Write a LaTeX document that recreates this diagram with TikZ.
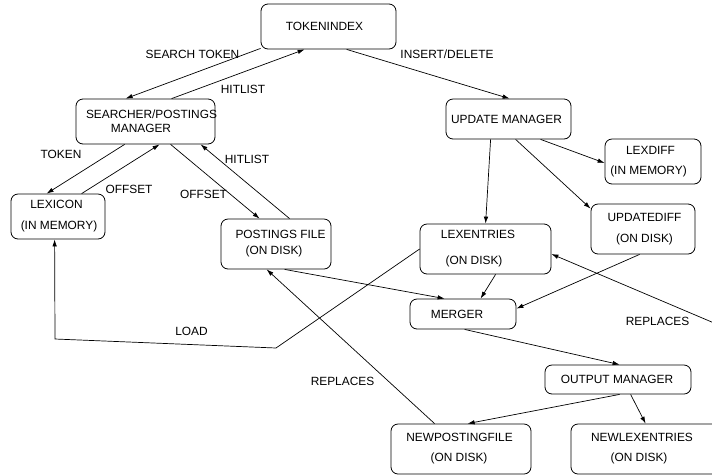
\documentclass[tikz,border=0pt]{standalone}
\usepackage{fontspec}
\setmainfont{Liberation Sans}
\usetikzlibrary{arrows.meta,calc}
\newcommand\dfont{\fontsize{11.9pt}{14pt}\selectfont}
\newcommand\sh[2]{\makebox[0pt]{\hspace*{#1}#2}}
\begin{document}
\begin{tikzpicture}[x=1pt,y=-1pt,
  box/.style={draw, rounded corners=7pt, line width=0.8pt, align=center, inner sep=0pt, font=\dfont},
  lbl/.style={inner sep=0pt, font=\dfont},
  conn/.style={line width=0.7pt, -{Latex[length=7pt,width=4.5pt]}},
  plain/.style={line width=0.7pt}]
\useasboundingbox (0,0) rectangle (712,475);
\clip (0,0) rectangle (712,475);
% boxes
\node[box, minimum width=135pt, minimum height=45pt] (tok) at (328.5,26.5) {\sh{-8pt}{TOKENINDEX}};
\node[box, minimum width=139pt, minimum height=45pt] (sea) at (145.5,121.5) {\sh{12pt}{SEARCHER/POSTINGS}\\\sh{-9pt}{MANAGER}};
\node[box, minimum width=94pt, minimum height=45pt] (lex) at (58,216.5) {\sh{-3pt}{LEXICON}\\[7pt]\sh{2pt}{(IN MEMORY)}};
\node[box, minimum width=110pt, minimum height=50pt] (pst) at (276,244) {\sh{9pt}{POSTINGS FILE}\\[2pt]\sh{-4pt}{(ON DISK)}};
\node[box, minimum width=125pt, minimum height=40pt] (upd) at (508.5,119) {\sh{-4pt}{UPDATE MANAGER}};
\node[box, minimum width=96pt, minimum height=45pt] (ldf) at (653,161.5) {\sh{-5pt}{LEXDIFF}\\[6pt]\sh{-9pt}{(IN MEMORY)}};
\node[box, minimum width=104pt, minimum height=50pt] (udf) at (643,229) {\sh{3pt}{UPDATEDIFF}\\[7pt]\sh{3pt}{(ON DISK)}};
\node[box, minimum width=131pt, minimum height=50pt] (lxe) at (485.5,249) {\sh{-15pt}{LEXENTRIES}\\[12pt]\sh{-23pt}{(ON DISK)}};
\node[box, minimum width=106pt, minimum height=30pt] (mrg) at (463,314) {\sh{-12pt}{MERGER}};
\node[box, minimum width=146pt, minimum height=29pt] (out) at (618,379.5) {\sh{-2pt}{OUTPUT MANAGER}};
\node[box, minimum width=140pt, minimum height=50pt] (npf) at (461,449) {\sh{-3pt}{NEWPOSTINGFILE}\\[6pt]\sh{-4pt}{(ON DISK)}};
\node[box, minimum width=160pt, minimum height=50pt] (nlx) at (651,449) {\sh{-18pt}{NEWLEXENTRIES}\\[6pt]\sh{-24pt}{(ON DISK)}};
% labels
\node[lbl] (l-st) at (192.5,54) {SEARCH TOKEN};
\node[lbl] (l-h1) at (243,89) {HITLIST};
\node[lbl] (l-tk) at (61,154) {TOKEN};
\node[lbl] (l-o1) at (129,189) {OFFSET};
\node[lbl] (l-o2) at (203.5,194) {OFFSET};
\node[lbl] (l-h2) at (247,159) {HITLIST};
\node[lbl] (l-id) at (447,54) {INSERT/DELETE};
\node[lbl] (l-ld) at (191.5,331) {LOAD};
\node[lbl] (l-r1) at (342.5,381) {REPLACES};
\node[lbl] (l-r2) at (657.5,321) {REPLACES};
% coordinates
\coordinate (ld1) at (276,348);
\coordinate (ld2) at (55,339);
\coordinate (repR) at (740,334);
% connectors
\draw[conn] ([yshift=1pt]tok.south west) -- ([xshift=50pt]sea.north west);
\draw[conn] ([xshift=96pt]sea.north west) -- ([xshift=44pt]tok.south west);
\draw[conn] ([xshift=49pt]sea.south west) -- ([xshift=36pt]lex.north west);
\draw[conn] ([xshift=71pt]lex.north west) -- ([xshift=84pt]sea.south west);
\draw[conn] ([xshift=95pt]sea.south west) -- ([xshift=39pt]pst.north west);
\draw[conn] ([xshift=69pt]pst.north west) -- ([xshift=125pt]sea.south west);
\draw[conn] ([xshift=86pt]tok.south west) -- ([xshift=64pt]upd.north west);
\draw[conn] ([xshift=95pt]upd.south west) -- ([yshift=-1.5pt]ldf.west);
\draw[conn] ([xshift=70pt]upd.south west) -- ([yshift=-5pt]udf.north west);
\draw[conn] ([xshift=45pt]upd.south west) -- ([xshift=66pt]lxe.north west);
\draw[conn] ([xshift=76pt]lxe.south west) -- ([xshift=71pt]mrg.north west);
\draw[conn] ([xshift=49pt]udf.south west) -- ([yshift=-10pt]mrg.north east);
\draw[conn] ([xshift=64pt]pst.south west) -- ([xshift=35pt]mrg.north west);
\draw[conn] ([xshift=55pt]mrg.south west) -- ([xshift=75pt]out.north west);
\draw[conn] ([xshift=75pt]out.south west) -- ([xshift=77pt]npf.north west);
\draw[conn] ([xshift=86pt]out.south west) -- ([xshift=75pt]nlx.north west);
\draw[conn] ([xshift=44pt]npf.north west) -- ([xshift=46pt]pst.south west);
\draw[conn] (lxe.west) -- (ld1) -- (ld2) -- ([xshift=44pt]lex.south west);
\draw[conn] (repR) -- ([yshift=-5pt]lxe.east);
\end{tikzpicture}
\end{document}
